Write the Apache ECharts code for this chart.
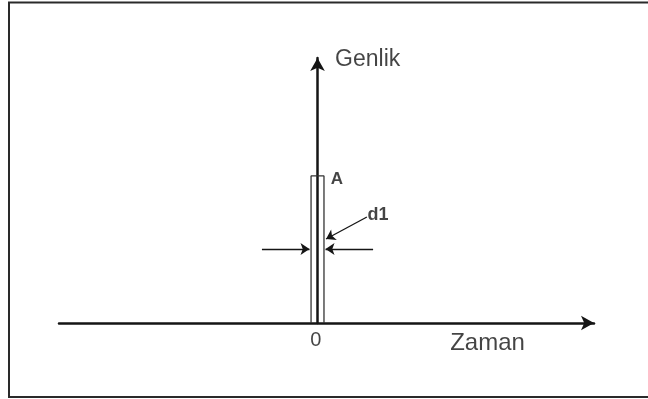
<!DOCTYPE html>
<html>
<head>
<meta charset="utf-8">
<script src="https://cdn.jsdelivr.net/npm/echarts@6/dist/echarts.min.js"></script>
<style>
  html, body { margin: 0; padding: 0; background: #fff; }
  #chart { width: 648px; height: 399px; }
</style>
</head>
<body>
<div id="chart"></div>
<script>
// Rectangular pulse of amplitude A and width d1, centred on t = 0
const timeRange = [-1.0, 1.0695];     // Zaman axis extent
const ampRange = [0, 1.0];            // Genlik axis extent
const pulseAmplitude = 0.555;         // A
const pulseWidth = 0.05;              // d1
const widthArrowY = 0.279;            // height of the d1 dimension arrows
const widthArrowReach = 0.215;        // where the dimension arrows start
const leaderFrom = [0.191, 0.400];    // d1 leader line, label end
const leaderTo = [0.033, 0.317];      // d1 leader line, pulse end

const axisLabels = { x: 'Zaman', y: 'Genlik', origin: '0' };
const pulseLabels = { amp: 'A', width: 'd1' };

const half = pulseWidth / 2;
const pulseOutline = [[-half, 0], [-half, pulseAmplitude], [half, pulseAmplitude], [half, 0]];

const ink = '#151515';
const font = 'Liberation Sans, Arial, sans-serif';

function textPoint(x, y, text, style) {
  return {
    type: 'scatter', symbolSize: 0, silent: true, clip: false,
    data: [[x, y]],
    label: Object.assign({ show: true, formatter: text, color: ink, fontFamily: font }, style)
  };
}

const chart = echarts.init(document.getElementById('chart'), null, { renderer: 'canvas' });
chart.setOption({
  animation: false,
  backgroundColor: '#fff',
  graphic: [{
    type: 'rect',
    shape: { x: 9, y: 2.5, width: 640, height: 394.5 },
    style: { fill: 'none', stroke: '#2a2a2a', lineWidth: 2 }
  }],
  grid: { left: 59, right: 54, top: 58, bottom: 76 },
  xAxis: {
    type: 'value', min: timeRange[0], max: timeRange[1],
    splitLine: { show: false }, axisTick: { show: false }, axisLabel: { show: false },
    axisLine: { show: true, onZero: true, symbol: ['none', 'arrow'], symbolSize: [11, 13],
      lineStyle: { color: ink, width: 2.5 } }
  },
  yAxis: {
    type: 'value', min: ampRange[0], max: ampRange[1],
    splitLine: { show: false }, axisTick: { show: false }, axisLabel: { show: false },
    axisLine: { show: true, onZero: true, symbol: ['none', 'arrow'], symbolSize: [11, 13],
      lineStyle: { color: ink, width: 2.5 } }
  },
  series: [
    {
      type: 'line', data: pulseOutline, symbol: 'none', silent: true,
      lineStyle: { color: '#333', width: 1.3 }
    },
    {
      type: 'lines', coordinateSystem: 'cartesian2d', silent: true,
      symbol: ['none', 'arrow'], symbolSize: 9,
      lineStyle: { color: ink, width: 1.3, opacity: 1 },
      data: [
        { coords: [[-widthArrowReach, widthArrowY], [-half - 0.006, widthArrowY]] },
        { coords: [[widthArrowReach, widthArrowY], [half + 0.006, widthArrowY]] },
        { coords: [leaderFrom, leaderTo] }
      ]
    },
    textPoint(0.068, 0.993, axisLabels.y, { position: 'right', distance: 0, fontSize: 23 }),
    textPoint(0.513, -0.075, axisLabels.x, { position: 'right', distance: 0, fontSize: 24 }),
    textPoint(-0.007, -0.066, axisLabels.origin, { position: 'inside', fontSize: 20 }),
    textPoint(0.051, 0.541, pulseLabels.amp, { position: 'right', distance: 0, fontSize: 17, fontWeight: 'bold' }),
    textPoint(0.193, 0.409, pulseLabels.width, { position: 'right', distance: 0, fontSize: 18, fontWeight: 'bold' })
  ]
});
</script>
</body>
</html>
